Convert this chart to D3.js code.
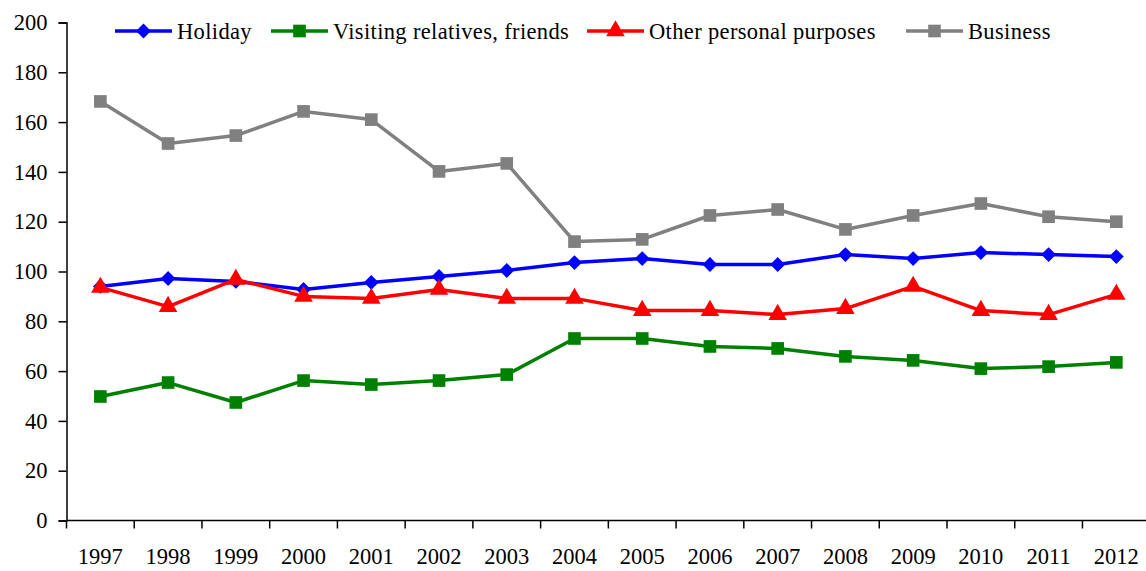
<!DOCTYPE html>
<html>
<head>
<meta charset="utf-8">
<script src="https://cdn.jsdelivr.net/npm/d3@7"></script>
<style>
  body { margin: 0; background: #fff; }
  svg text { font-family: "Liberation Serif", "Times New Roman", serif; fill: #000; }
</style>
</head>
<body>
<svg id="chart" width="1146" height="571"></svg>
<script>
// Data
const years = ["1997","1998","1999","2000","2001","2002","2003","2004","2005","2006","2007","2008","2009","2010","2011","2012"];
const holiday  = [94, 97.2, 96, 92.8, 95.6, 98, 100.4, 103.6, 105.2, 102.8, 102.8, 106.8, 105.2, 107.6, 106.8, 106];
const visiting = [49.8, 55.4, 47.4, 56.2, 54.6, 56.2, 58.6, 73.1, 73.1, 69.9, 69.1, 65.9, 64.3, 61, 61.8, 63.5];
const other    = [93.6, 85.9, 96.8, 90, 89.2, 92.8, 89.2, 89.2, 84.3, 84.3, 82.7, 85.1, 94, 84.3, 82.7, 90.8];
const business = [168.3, 151.4, 154.6, 164.3, 161, 140.2, 143.4, 112, 112.9, 122.5, 124.9, 116.9, 122.5, 127.3, 122, 120];
const seriesNames = ["Holiday", "Visiting relatives, friends", "Other personal purposes", "Business"];
const yTicks = [0, 20, 40, 60, 80, 100, 120, 140, 160, 180, 200];

const series = [
  { name: seriesNames[0], values: holiday,  color: "#0000ff", symbol: d3.symbolDiamond2, size: 140, lx: 115 },
  { name: seriesNames[1], values: visiting, color: "#008000", symbol: d3.symbolSquare,   size: 160, lx: 271 },
  { name: seriesNames[2], values: other,    color: "#ff0000", symbol: d3.symbolTriangle, size: 150, lx: 587 },
  { name: seriesNames[3], values: business, color: "#808080", symbol: d3.symbolSquare,   size: 160, lx: 906 }
];

const svg = d3.select("#chart");
const margin = { top: 22.5, left: 66.5, bottom: 520.5 };

const x = d3.scaleBand()
  .domain(years)
  .range([margin.left, 1150.2]);

const y = d3.scaleLinear()
  .domain([0, 200])
  .range([margin.bottom, margin.top]);

// Y axis
const yAxis = svg.append("g")
  .attr("transform", `translate(${margin.left},0)`)
  .call(d3.axisLeft(y).tickValues(yTicks).tickSize(8).tickPadding(11));
yAxis.selectAll("text").style("font-size", "22.5px");

// X axis: ticks at band boundaries
const xAxis = svg.append("g")
  .attr("transform", `translate(0,${margin.bottom})`)
  .call(d3.axisBottom(x).tickSize(0).tickPadding(28));
xAxis.selectAll("text").style("font-size", "22.5px");
xAxis.select(".domain").attr("d", `M${margin.left},0H1150`);
xAxis.selectAll(".bound")
  .data(years)
  .join("line")
  .attr("class", "bound")
  .attr("x1", d => x(d)).attr("x2", d => x(d))
  .attr("y1", 0).attr("y2", 8)
  .attr("stroke", "#000");

svg.selectAll(".domain, .tick line").attr("stroke", "#000").attr("stroke-width", 1.5);
svg.selectAll(".bound").attr("stroke-width", 1.5);

// Lines and markers
const line = d3.line()
  .x((d, i) => x(years[i]) + x.bandwidth() / 2)
  .y(d => y(d));

series.forEach(s => {
  const g = svg.append("g");
  g.append("path")
    .attr("d", line(s.values))
    .attr("fill", "none")
    .attr("stroke", s.color)
    .attr("stroke-width", 3.5)
    .attr("stroke-linejoin", "round");
  g.selectAll("path.pt")
    .data(s.values)
    .join("path")
    .attr("class", "pt")
    .attr("d", d3.symbol().type(s.symbol).size(s.size))
    .attr("transform", (d, i) => `translate(${x(years[i]) + x.bandwidth() / 2},${y(d)})`)
    .attr("fill", s.color);
});

// Legend
const legend = svg.append("g");
series.forEach(s => {
  const lg = legend.append("g");
  lg.append("line")
    .attr("x1", s.lx).attr("x2", s.lx + 57)
    .attr("y1", 31).attr("y2", 31)
    .attr("stroke", s.color).attr("stroke-width", 3.5);
  lg.append("path")
    .attr("d", d3.symbol().type(s.symbol).size(s.size))
    .attr("transform", `translate(${s.lx + 28.5},31)`)
    .attr("fill", s.color);
  lg.append("text")
    .attr("x", s.lx + 62)
    .attr("y", 39)
    .style("font-size", "22.5px")
    .style("letter-spacing", "0.35px")
    .text(s.name);
});
</script>
</body>
</html>
